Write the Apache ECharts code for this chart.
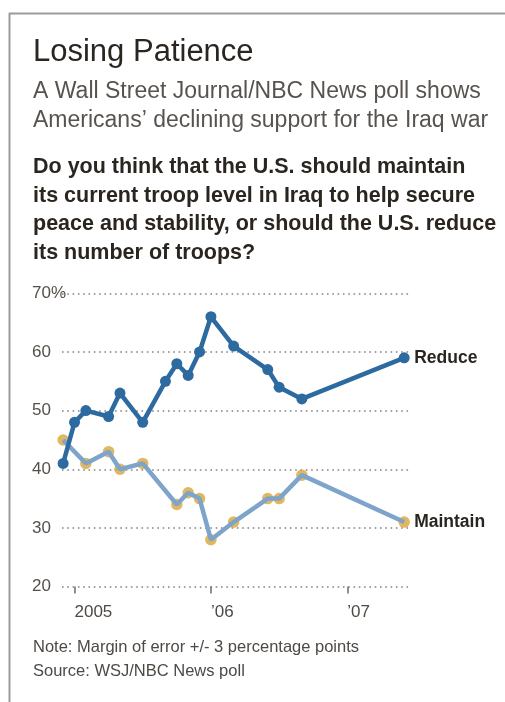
<!DOCTYPE html>
<html>
<head>
<meta charset="utf-8">
<script src="https://cdn.jsdelivr.net/npm/echarts@6/dist/echarts.min.js"></script>
<style>
html,body{margin:0;padding:0;background:#fff;}
#chart{width:505px;height:702px;}
</style>
</head>
<body>
<div id="chart"></div>
<script>
// Months counted from January 2005 (0 = Jan 2005, 12 = Jan 2006, 24 = Jan 2007)
const months   = [-1, 0, 1, 3, 4, 6, 8, 9, 10, 11, 12, 14, 17, 18, 20, 29];
const reduce   = [41, 48, 50, 49, 53, 48, 55, 58, 56, 60, 66, 61, 57, 54, 52, 59];
const maintain = [45, null, 41, 43, 40, 41, null, 34, 36, 35, 28, 31, 35, 35, 39, 31];
const yearTicks = [0, 12, 24];
const yearLabels = ['2005', '\u201906', '\u201907'];

const FONT = '"Liberation Sans", Arial, sans-serif';

function pairs(xs, ys) { return xs.map((x, i) => [x, ys[i]]); }

const chart = echarts.init(document.getElementById('chart'), null, {renderer: 'canvas'});

function txt(text, x, y, size, color, weight) {
  return {
    type: 'text', x: x, y: y, silent: true,
    style: {
      text: text, fill: color,
      font: (weight || 'normal') + ' ' + size + 'px ' + FONT,
      textAlign: 'left', textVerticalAlign: 'middle'
    }
  };
}

const endLbl = { show: true, formatter: '{a}', distance: 10, color: '#2b2520',
  fontSize: 17.5, fontWeight: 'bold', fontFamily: FONT };

const option = {
  backgroundColor: '#ffffff',
  animation: false,
  grid: { left: 62, top: 293.3, width: 349, height: 293.3, containLabel: false },
  xAxis: {
    type: 'value', min: -1.1, max: 29.6,
    axisLine: { show: false },
    splitLine: { show: false },
    axisTick: { show: true, customValues: yearTicks, length: 7, lineStyle: { color: '#6e6a66', width: 1.5 } },
    axisLabel: {
      customValues: yearTicks,
      formatter: function (v) { const i = yearTicks.indexOf(Math.round(v)); return i >= 0 ? yearLabels[i] : ''; },
      align: 'left', margin: 17, color: '#4e4944', fontSize: 17, fontFamily: FONT
    }
  },
  yAxis: {
    type: 'value', min: 20, max: 70, interval: 10,
    axisLine: { show: false },
    axisTick: { show: false },
    axisLabel: {
      formatter: function (v) { return v === 70 ? '70%' : String(v); },
      align: 'left', margin: 30, color: '#55504a', fontSize: 17, fontFamily: FONT
    },
    splitLine: { show: true, lineStyle: { color: '#858280', width: 1.6, type: [1.6, 3.7] } }
  },
  series: [
    {
      name: 'Maintain markers', type: 'scatter', z: 2,
      data: pairs(months, maintain).filter(p => p[1] !== null),
      symbol: 'circle', symbolSize: 11.5,
      itemStyle: { color: '#d9a53a' }
    },
    {
      name: 'Maintain', type: 'line', z: 3,
      data: pairs(months, maintain), connectNulls: true,
      showSymbol: false, symbol: 'none',
      lineStyle: { color: '#7ea5c9', width: 4.5 },
      endLabel: endLbl
    },
    {
      name: 'Reduce', type: 'line', z: 4,
      data: pairs(months, reduce),
      symbol: 'circle', symbolSize: 11, showSymbol: true,
      itemStyle: { color: '#2c6aa0' },
      lineStyle: { color: '#2c6aa0', width: 4.5 },
      endLabel: endLbl
    }
  ],
  graphic: [
    { type: 'line', silent: true, shape: { x1: 9, y1: 13.5, x2: 505, y2: 13.5 }, style: { stroke: '#9b9b9b', lineWidth: 2 } },
    { type: 'line', silent: true, shape: { x1: 9.5, y1: 13, x2: 9.5, y2: 702 }, style: { stroke: '#9b9b9b', lineWidth: 2 } },
    txt('Losing Patience', 33, 52.5, 31, '#2b2520'),
    txt('A Wall Street Journal/NBC News poll shows', 33, 91.5, 23, '#58534e'),
    txt('Americans\u2019 declining support for the Iraq war', 33, 120.5, 23, '#58534e'),
    txt('Do you think that the U.S. should maintain', 33, 167.5, 21.5, '#2b2520', 'bold'),
    txt('its current troop level in Iraq to help secure', 33, 196, 21.5, '#2b2520', 'bold'),
    txt('peace and stability, or should the U.S. reduce', 33, 224.5, 21.5, '#2b2520', 'bold'),
    txt('its number of troops?', 33, 253, 21.5, '#2b2520', 'bold'),
    txt('Note: Margin of error +/- 3 percentage points', 33, 647.5, 16.5, '#4e4944'),
    txt('Source: WSJ/NBC News poll', 33, 671.7, 16.5, '#4e4944')
  ]
};
chart.setOption(option);
</script>
</body>
</html>
